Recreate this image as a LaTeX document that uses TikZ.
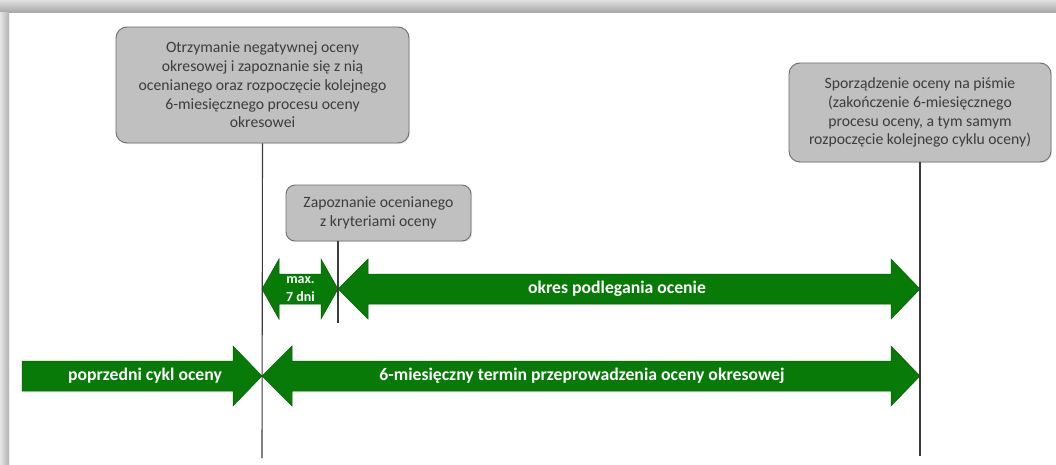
\documentclass[tikz,border=0pt]{standalone}
\usepackage{fontspec}
\setmainfont{Carlito}
\usetikzlibrary{shadows}
\definecolor{agreen}{RGB}{8,122,8}
\definecolor{agreenedge}{RGB}{0,95,0}
\definecolor{boxfill}{RGB}{192,192,192}
\definecolor{boxedge}{RGB}{110,110,110}
\definecolor{boxtext}{RGB}{60,60,60}
\definecolor{linecol}{RGB}{60,60,60}
\tikzset{
  infobox/.style={draw=boxedge, line width=0.9pt, fill=boxfill, rounded corners=11pt,
    text=boxtext, align=center, inner sep=0pt,
    font=\fontsize{15.7}{18.8}\selectfont,
    drop shadow={opacity=0.18, shadow xshift=1.2pt, shadow yshift=-1.2pt}},
  arrowshape/.style={fill=agreen, draw=agreenedge, line width=0.5pt, line join=miter},
  arrowtext/.style={text=white, font=\bfseries\fontsize{17.7}{20}\selectfont, inner sep=0pt},
  smalltext/.style={text=white, font=\bfseries\fontsize{14}{18}\selectfont, align=center, inner sep=0pt},
  conn/.style={draw=linecol, line width=1.1pt}
}
\begin{document}
\begin{tikzpicture}[x=1pt,y=-1pt]
\useasboundingbox (0,0) rectangle (1056,465);
% frame with shadow
\fill[white] (0,0) rectangle (1056,465);
\shade[top color=black!12, bottom color=black!36] (0,0) rectangle (1056,13);
\shade[left color=black!10, right color=black!30] (0,13) rectangle (9,465);

% boxes
\node[infobox, minimum width=293pt, minimum height=116pt] (b1) at (262.5,85)
  {Otrzymanie negatywnej oceny\\okresowej i zapoznanie się z nią\\ocenianego oraz rozpoczęcie kolejnego\\6-miesięcznego procesu oceny\\okresowei};
\node[infobox, minimum width=262pt, minimum height=99pt] (b2) at (920,112.5)
  {Sporządzenie oceny na piśmie\\(zakończenie 6-miesięcznego\\procesu oceny, a tym samym\\rozpoczęcie kolejnego cyklu oceny)};
\node[infobox, rounded corners=9pt, minimum width=185pt, minimum height=56pt] (b3) at (378.5,213)
  {Zapoznanie ocenianego\\z kryteriami oceny};

% connector ends
\coordinate (e1) at (262,458);
\coordinate (e2) at (920,456);
\coordinate (e3) at (338,323);

% arrows
% small double arrow
\draw[arrowshape] (262,289) -- (279,259) -- (279,274) -- (321,274) -- (321,259) -- (338,289)
  -- (321,319) -- (321,304) -- (279,304) -- (279,319) -- cycle;
% big top double arrow
\draw[arrowshape] (338,289) -- (368,259) -- (368,274) -- (891,274) -- (891,259) -- (920,289)
  -- (891,319) -- (891,304) -- (368,304) -- (368,319) -- cycle;
% bottom left single arrow
\draw[arrowshape] (22,361) -- (233,361) -- (233,346) -- (262,376) -- (233,406) -- (233,391) -- (22,391) -- cycle;
% bottom double arrow
\draw[arrowshape] (262,376) -- (292,346) -- (292,361) -- (891,361) -- (891,346) -- (920,376)
  -- (891,406) -- (891,391) -- (292,391) -- (292,406) -- cycle;

% connectors
\draw[conn] (b1.south) -- (e1);
\draw[conn] (b2.south) -- (e2);
\draw[conn] (b3.south -| e3) -- (e3);

% arrow labels
\node[smalltext] (t0) at (300.5,289) {max.\\7 dni};
\node[arrowtext] (t1) at (617,289) {okres podlegania ocenie};
\node[arrowtext] (t2) at (145,376) {poprzedni cykl oceny};
\node[arrowtext] (t3) at (582,376) {6-miesięczny termin przeprowadzenia oceny okresowej};
\end{tikzpicture}
\end{document}
